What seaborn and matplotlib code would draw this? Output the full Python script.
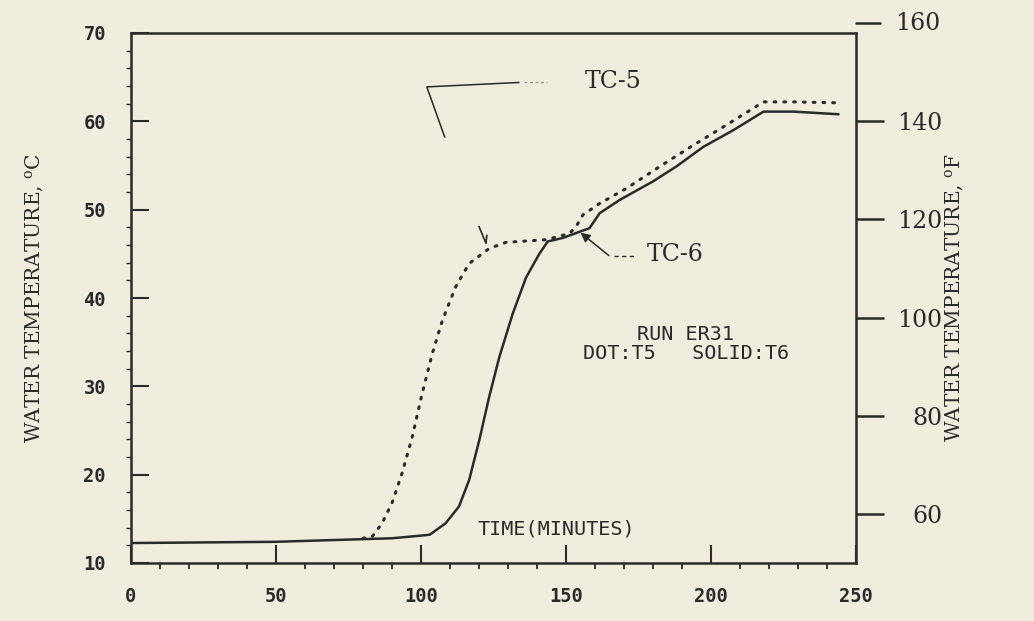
import numpy as np
import pandas as pd
import matplotlib
matplotlib.use("Agg")
import matplotlib.pyplot as plt
import seaborn as sns
from matplotlib.transforms import blended_transform_factory

# ---------------- data ----------------
time_tc6 = [0, 50, 90, 100, 103, 108.5, 113.1, 116.6, 120.1, 123.5, 127, 131.6,
            136.2, 140.8, 143.7, 148.9, 154.7, 158.1, 161.6, 168.5, 180, 188.1,
            197.3, 207.7, 218.1, 228.5, 244]
temp_tc6 = [12.26, 12.4, 12.8, 13.1, 13.2, 14.5, 16.4, 19.4, 23.9, 28.8, 33.3, 38.2,
            42.3, 45.0, 46.4, 46.8, 47.5, 47.9, 49.6, 51.1, 53.2, 54.9,
            57.1, 59.0, 61.1, 61.1, 60.8]

time_tc5 = [80, 83.2, 86.6, 90, 93.5, 97, 100.4, 103.9, 107.4, 112, 116.6, 123.5,
            129.3, 143.1, 151.2, 153.5, 155.8, 161.6, 170.8, 182.4, 193.9, 205.4,
            218.1, 228.5, 242.9]
temp_tc5 = [12.8, 13.0, 14.5, 16.8, 20.2, 24.3, 29.2, 33.7, 37.5, 41.3, 43.9, 45.6,
            46.3, 46.6, 47.3, 48.1, 49.4, 50.7, 52.4, 54.9, 57.3, 59.6,
            62.2, 62.2, 62.1]

x_ticks = [0, 50, 100, 150, 200, 250]
yC_ticks = [10, 20, 30, 40, 50, 60, 70]
yF_ticks = [60, 80, 100, 120, 140, 160]

# ---------------- style ----------------
BG = "#F0ECDE"
INK = "#2a2a2a"
sns.set_theme(style="ticks")
plt.rcParams["font.family"] = ["DejaVu Sans Mono", "DejaVu Sans"]
plt.rcParams["mathtext.fontset"] = "dejavuserif"
plt.rcParams["axes.edgecolor"] = INK
plt.rcParams["text.color"] = INK

fig = plt.figure(figsize=(10.34, 6.21), dpi=100, facecolor=BG)
ax = fig.add_axes([131 / 1034, 1 - 563 / 621, 725 / 1034, 530 / 621])
ax.set_facecolor(BG)

df6 = pd.DataFrame({"time": time_tc6, "temp": temp_tc6})
df5 = pd.DataFrame({"time": time_tc5, "temp": temp_tc5})

sns.lineplot(data=df5, x="time", y="temp", ax=ax, color=INK, lw=2.2,
             estimator=None, sort=False, dashes=False)
ax.lines[-1].set_linestyle((0, (0.6, 2.6)))
ax.lines[-1].set_dash_capstyle("round")
sns.lineplot(data=df6, x="time", y="temp", ax=ax, color=INK, lw=1.8,
             estimator=None, sort=False)

ax.set_xlim(0, 250)
ax.set_ylim(10, 70)
ax.set_xlabel("")
ax.set_ylabel("")

for s in ax.spines.values():
    s.set_visible(True)
    s.set_linewidth(1.8)
    s.set_color(INK)

ax.set_xticks(x_ticks)
ax.set_xticks([v for v in range(0, 251, 10) if v % 50], minor=True)
ax.set_yticks(yC_ticks)
ax.set_yticks([v for v in range(10, 71, 2) if v % 10], minor=True)
ax.tick_params(axis="x", which="major", direction="in", length=13, width=1.5,
               pad=17, labelsize=13.5, colors=INK)
ax.tick_params(axis="x", which="minor", direction="out", length=4, width=1.3, colors=INK)
ax.tick_params(axis="y", which="major", direction="in", length=13, width=1.5,
               pad=18, labelsize=13.5, colors=INK)
ax.tick_params(axis="y", which="minor", direction="out", length=3.5, width=1.0, colors=INK)
ax.tick_params(top=False, right=False, which="both")
for lab in ax.get_xticklabels() + ax.get_yticklabels():
    lab.set_fontweight("bold")

# ---------------- right (Fahrenheit) axis ----------------
ax2 = ax.twinx()
ax2.set_ylim(10 * 9 / 5 + 32, 70 * 9 / 5 + 32)
inside = [t for t in yF_ticks if t <= 70 * 9 / 5 + 32]
ax2.set_yticks(inside)
ax2.set_yticklabels([str(t) for t in inside])
ax2.tick_params(axis="y", direction="out", length=20, width=1.8, pad=42,
                labelsize=17, colors=INK)
for lab in ax2.get_yticklabels():
    lab.set_fontfamily("DejaVu Serif")
    lab.set_ha("right")
for s in ax2.spines.values():
    s.set_visible(False)

# tick(s) that fall above the frame top
trans = blended_transform_factory(ax2.transAxes, ax2.transData)
for t in [t for t in yF_ticks if t > 70 * 9 / 5 + 32]:
    ax2.plot([1.0, 1.0 + 24 / 725], [t, t], transform=trans, color=INK, lw=1.8,
             clip_on=False)
    ax2.text(1.0 + 84 / 725, t, str(t), transform=trans, ha="right", va="center",
             fontsize=17, family="DejaVu Serif", color=INK, clip_on=False)

# ---------------- axis titles ----------------
ax.text(-0.132, 0.5, r"WATER TEMPERATURE, $^{\mathrm{o}}$C", transform=ax.transAxes,
        rotation=90, ha="center", va="center", fontsize=14.5, family="DejaVu Serif",
        color=INK)
ax.text(1.137, 0.5, r"WATER TEMPERATURE, $^{\mathrm{o}}$F", transform=ax.transAxes,
        rotation=90, ha="center", va="center", fontsize=14.5, family="DejaVu Serif",
        color=INK)

# ---------------- annotations ----------------
ax.text(166.3, 64.5, "TC-5", fontsize=17, family="DejaVu Serif", ha="center",
        va="center", color=INK)
ax.plot([108.2, 102.0, 133.8], [58.2, 63.9, 64.4], color=INK, lw=1.1)
ax.plot([135.5, 143.4], [64.4, 64.4], color="#9a978c", lw=1.0, ls=(0, (2, 2)))

ax.text(187.8, 44.9, "TC-6", fontsize=17, family="DejaVu Serif", ha="center",
        va="center", color=INK)
ax.plot([166.5, 174.0], [44.8, 44.8], color=INK, lw=1.0, ls=(0, (3, 2.5)))
ax.annotate("", xy=(155.0, 47.4), xytext=(164.8, 44.8),
            arrowprops=dict(arrowstyle="-|>", color=INK, lw=1.1,
                            mutation_scale=14, shrinkA=0, shrinkB=0))

ax.plot([120.0, 122.4, 122.7], [48.1, 46.2, 47.1], color=INK, lw=1.2)

ax.text(191.2, 35.9, "RUN ER31", fontsize=14.5, ha="center", va="center", color=INK)
ax.text(191.5, 33.7, "DOT:T5   SOLID:T6", fontsize=14.5, ha="center", va="center",
        color=INK)
ax.text(146.5, 13.9, "TIME(MINUTES)", fontsize=14.5, ha="center", va="center",
        color=INK)

fig.savefig("out.png", dpi=100, facecolor=BG)
